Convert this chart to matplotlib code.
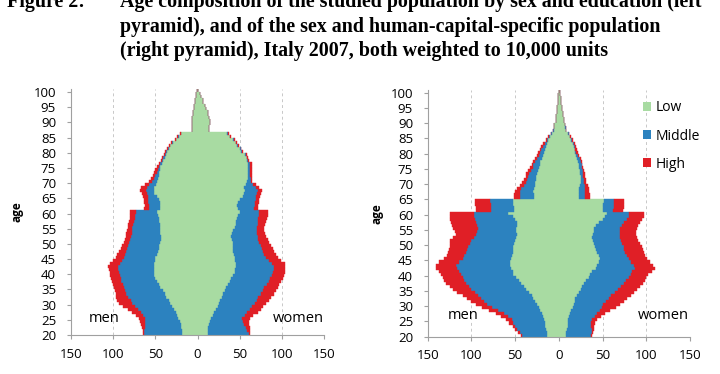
import numpy as np
import matplotlib
matplotlib.use("Agg")
from matplotlib import pyplot as plt
from matplotlib.patches import Patch

ages = np.arange(20, 101)

# left pyramid: studied population by sex and education (ages 20..100)
left_men_low = [18, 18, 19, 20, 21, 23, 24, 26, 28, 30,
                32, 34, 37, 39, 41, 44, 46, 48, 50, 51,
                52, 52, 52, 51, 50, 50, 48, 47, 46, 45,
                44, 43, 43, 44, 44, 44, 44, 45, 46, 47,
                48, 44, 44, 44, 45, 48, 51, 52, 51, 49,
                48, 47, 46, 45, 44, 44, 42, 41, 39, 37,
                36, 34, 32, 29, 25, 22, 19, 7, 6.5, 7,
                6.7, 6, 5.5, 5.2, 4.5, 4, 3.5, 3, 2.2, 1.5, 0.8]
left_men_mid = [45, 45, 43, 42, 41, 39, 40, 41, 42, 44,
                45, 45, 45, 45, 45, 43, 42, 42, 41, 41,
                41, 42, 42, 41, 39, 37, 38, 38, 37, 37,
                37, 37, 36, 34, 34, 33, 32, 30, 28, 27,
                25, 13, 13, 14, 13, 11, 9, 9, 9, 8,
                6, 5, 4, 3, 3, 2, 2, 1, 2, 2,
                1, 1, 1, 1, 1, 1, 1, 0, 0, 0,
                0, 0, 0, 0, 0, 0, 0, 0, 0, 0, 0]
left_men_high = [1, 2, 4, 5, 6, 7, 9, 10, 12, 14,
                 16, 16, 14, 13, 12, 12, 12, 11, 11, 11,
                 11, 11, 12, 12, 11, 10, 9, 8, 8, 7,
                 6, 6, 6, 6, 5, 5, 6, 6, 6, 6,
                 7, 6, 5, 5, 5, 6, 6, 7, 7, 5,
                 3, 3, 3, 3, 3, 2, 1, 1, 1, 1,
                 1, 1, 1, 1, 1, 1, 0.5, 0, 0, 0,
                 0, 0, 0, 0, 0, 0, 0, 0, 0, 0, 0]

left_women_low = [12, 12, 13, 14, 15, 16, 18, 20, 22, 24,
                  26, 27, 29, 30, 32, 34, 36, 38, 40, 42,
                  44, 44, 45, 45, 44, 44, 43, 42, 42, 42,
                  42, 41, 40, 41, 42, 44, 45, 46, 47, 48,
                  50, 48, 47, 48, 50, 54, 55, 56, 55, 57,
                  59, 60, 60, 60, 60, 60, 60, 59, 58, 56,
                  52, 50, 47, 45, 42, 38, 35, 14, 14, 15,
                  15, 14, 13, 12, 10, 9, 7, 6, 4, 3, 1]
left_women_mid = [49, 47, 44, 41, 39, 37, 38, 39, 40, 41,
                  42, 43, 43, 45, 45, 45, 46, 46, 46, 46,
                  45, 46, 45, 43, 41, 37, 36, 35, 34, 33,
                  31, 31, 31, 29, 28, 26, 26, 26, 25, 25,
                  23, 19, 21, 20, 19, 15, 15, 15, 14, 9,
                  4, 3, 2, 2, 2, 2, 2, 1, 1, 1,
                  1, 1, 1, 1, 1, 1, 1, 0, 0, 0,
                  0, 0, 0, 0, 0, 0, 0, 0, 0, 0, 0]
left_women_high = [1, 3, 5, 6, 7, 9, 10, 12, 13, 13,
                   13, 14, 15, 15, 16, 16, 15, 15, 15, 14,
                   14, 14, 14, 15, 14, 14, 14, 14, 13, 12,
                   12, 11, 10, 10, 9, 9, 9, 9, 10, 10,
                   10, 5, 4, 5, 4, 5, 5, 5, 4, 3,
                   2, 2, 2, 2, 2, 2, 2, 1, 1, 1,
                   1, 1, 1, 1, 1, 1, 1, 0, 0, 0,
                   0, 0, 0, 0, 0, 0, 0, 0, 0, 0, 0]

# right pyramid: sex and human-capital-specific population
right_men_low = [13, 14, 15, 16, 16, 17, 18, 19, 21, 23,
                 25, 27, 29, 31, 34, 37, 40, 43, 46, 49,
                 52, 53, 55, 56, 56, 55, 54, 53, 52, 52,
                 51, 50, 49, 48, 49, 49, 48, 48, 50, 52,
                 58, 51, 51, 52, 52, 28, 28, 29, 28, 27,
                 27, 26, 26, 25, 24, 23, 22, 21, 19, 18,
                 17, 16, 15, 14, 12, 10, 8, 6, 5.5, 5,
                 3, 3, 2.8, 2.5, 2.2, 2, 1.5, 1.2, 1, 0.7, 0.4]
right_men_mid = [29, 31, 33, 34, 36, 37, 40, 44, 49, 53,
                 57, 59, 60, 61, 62, 63, 63, 63, 62, 61,
                 60, 61, 62, 62, 58, 55, 54, 53, 53, 52,
                 51, 50, 48, 47, 45, 44, 46, 47, 46, 45,
                 39, 27, 27, 26, 27, 16, 16, 15, 15, 13,
                 11, 10, 9, 9, 8, 7, 7, 6, 6, 5,
                 5, 4, 3, 2, 2, 1, 1, 0.5, 0.5, 0.5,
                 0.2, 0.2, 0.2, 0.1, 0.1, 0.1, 0, 0, 0, 0, 0]
right_men_high = [1, 2, 2, 3, 5, 7, 8, 9, 10, 12,
                  13, 14, 16, 18, 20, 21, 22, 23, 23, 23,
                  23, 23, 23, 23, 23, 21, 20, 21, 21, 21,
                  23, 24, 24, 23, 25, 28, 28, 28, 28, 28,
                  28, 17, 17, 18, 17, 7, 7, 6, 5, 4,
                  4, 4, 3, 3, 3, 3, 2, 2, 2, 2,
                  2, 2, 2, 2, 1, 1, 0.5, 0.5, 0, 0,
                  0, 0, 0, 0, 0, 0, 0, 0, 0, 0, 0]

right_women_low = [8, 8, 9, 10, 11, 11, 12, 13, 14, 16,
                   17, 18, 19, 21, 23, 25, 27, 29, 31, 34,
                   36, 38, 42, 44, 46, 47, 46, 44, 42, 41,
                   40, 39, 38, 39, 40, 40, 42, 46, 50, 53,
                   55, 50, 51, 51, 52, 23, 23, 23, 23, 24,
                   25, 25, 25, 24, 24, 23, 23, 22, 21, 20,
                   19, 18, 17, 16, 14, 12.5, 11, 8, 7.5, 7,
                   5.7, 5.5, 5, 4.5, 4, 3.8, 3, 2.5, 2, 1.5, 0.8]
right_women_mid = [29, 30, 29, 27, 26, 27, 29, 31, 33, 33,
                   34, 36, 38, 39, 41, 43, 44, 45, 46, 46,
                   46, 46, 45, 42, 37, 33, 32, 32, 33, 33,
                   32, 32, 32, 31, 30, 30, 30, 29, 28, 27,
                   25, 12, 12, 12, 11, 7, 7, 7, 7, 6,
                   4, 4, 3, 4, 4, 4, 3, 3, 3, 2,
                   1, 1, 1, 1, 1, 0.5, 0.5, 0.3, 0.3, 0.2,
                   0.2, 0.2, 0.1, 0.1, 0.1, 0, 0, 0, 0, 0, 0]
right_women_high = [1, 1, 2, 3, 4, 6, 7, 9, 12, 16,
                    19, 20, 21, 22, 22, 21, 22, 22, 21, 20,
                    20, 22, 23, 22, 21, 21, 21, 21, 21, 21,
                    21, 20, 19, 18, 18, 19, 19, 18, 17, 17,
                    17, 11, 11, 11, 11, 6, 6, 5, 4, 3,
                    2, 2, 2, 2, 1, 1, 1, 1, 1, 1,
                    2, 2, 1.5, 1, 1, 1, 0.5, 0.2, 0.2, 0.3,
                    0, 0, 0, 0, 0, 0, 0, 0, 0, 0, 0]

edu_labels = ["Low", "Middle", "High"]
colors = ["#a8dba2", "#2c82bf", "#e01f26"]
x_ticks = [-150, -100, -50, 0, 50, 100, 150]

title_lines = ["Age composition of the studied population by sex and education (left",
               "pyramid), and of the sex and human-capital-specific population",
               "(right pyramid), Italy 2007, both weighted to 10,000 units"]

tick_font = "Open Sans"
W, H = 720, 374

fig = plt.figure(figsize=(7.2, 3.74), dpi=100)
ax_l = fig.add_axes([70.7 / W, 1 - 335.0 / H, 253.6 / W, 246.0 / H])
ax_r = fig.add_axes([427.7 / W, 1 - 336.7 / H, 262.3 / W, 247.0 / H])


def draw_pyramid(ax, men, women, text_y, label_x):
    men_left = np.zeros(len(ages))
    women_left = np.zeros(len(ages))
    for vals_m, vals_w, c in zip(men, women, colors):
        vals_m = np.array(vals_m, dtype=float)
        vals_w = np.array(vals_w, dtype=float)
        ax.barh(ages, -vals_m, left=-men_left, height=1, align="edge",
                color=c, edgecolor=c, linewidth=0.3, zorder=2)
        ax.barh(ages, vals_w, left=women_left, height=1, align="edge",
                color=c, edgecolor=c, linewidth=0.3, zorder=2)
        men_left += vals_m
        women_left += vals_w

    ax.set_xlim(-150, 150)
    ax.set_ylim(20, 101)
    ax.set_xticks(x_ticks)
    ax.set_xticklabels([str(abs(t)) for t in x_ticks])
    ax.set_yticks(range(20, 101, 5))
    ax.grid(axis="x", color="#c8c8c8", linestyle=(0, (3, 3)), linewidth=0.7, zorder=0)
    for s in ["top", "right"]:
        ax.spines[s].set_visible(False)
    ax.spines["left"].set_color("#a0a0a0")
    ax.spines["bottom"].set_color("#a0a0a0")
    ax.tick_params(axis="both", colors="#a0a0a0", labelcolor="black",
                   labelsize=9.5, length=3)
    ax.tick_params(axis="y", pad=7.5)
    ax.tick_params(axis="x", pad=6)
    for lbl in ax.get_xticklabels() + ax.get_yticklabels():
        lbl.set_fontfamily(tick_font)
    ax.set_ylabel("age", fontfamily=tick_font, fontweight="bold", fontsize=8.5)
    ax.yaxis.set_label_coords(label_x, 0.5)
    ax.text(-110, text_y, "men", ha="center", va="center", fontsize=10.5,
            fontfamily=tick_font)
    ax.text(119, text_y, "women", ha="center", va="center", fontsize=10.5,
            fontfamily=tick_font)


draw_pyramid(ax_l, [left_men_low, left_men_mid, left_men_high],
             [left_women_low, left_women_mid, left_women_high], 25.3, -0.188)
draw_pyramid(ax_r, [right_men_low, right_men_mid, right_men_high],
             [right_women_low, right_women_mid, right_women_high], 26.8, -0.17)

handles = [Patch(facecolor=c, edgecolor="none") for c in colors]
fig.legend(handles, edu_labels, loc="center left",
           bbox_to_anchor=(643 / W, 1 - 136 / H), borderaxespad=0, borderpad=0,
           frameon=False, handlelength=0.58, handleheight=0.58, handletextpad=0.36,
           labelspacing=0.95, prop={"family": tick_font, "size": 10})

# title block, sized so that the second line spans about 540 px like the source
renderer = fig.canvas.get_renderer()
probe = fig.text(0, 0, title_lines[1], fontfamily="Liberation Serif",
                 fontweight="bold", fontsize=13)
title_size = 13 * 540 / probe.get_window_extent(renderer).width
probe.remove()

baselines = [7, 32, 56]
fig.text(7 / W, 1 - baselines[0] / H, "Figure 2:", fontfamily="Liberation Serif",
         fontweight="bold", fontsize=title_size, va="baseline")
for line, b in zip(title_lines, baselines):
    fig.text(120 / W, 1 - b / H, line, fontfamily="Liberation Serif",
             fontweight="bold", fontsize=title_size, va="baseline")

fig.savefig("out.png", dpi=100)
